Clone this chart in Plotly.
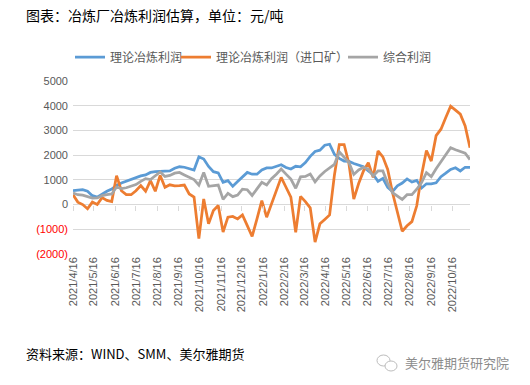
import datetime as dt
import pandas as pd
import plotly.graph_objects as go

# ---- data ----
start_date = "2021-04-16"
n_weeks = 83
dates = pd.date_range(start_date, periods=n_weeks, freq="7D")

blue_name = "理论冶炼利润"
orange_name = "理论冶炼利润（进口矿）"
gray_name = "综合利润"

blue = [560, 570, 600, 540, 360, 300, 430, 540, 630, 770, 870, 940, 1010, 1100, 1160, 1200, 1300, 1330, 1340, 1340, 1360, 1470,
        1530, 1510, 1460, 1400, 1930, 1840, 1540, 1330, 1280, 900, 970, 740, 930, 1130, 1300, 1230, 1230, 1400, 1480,
        1480, 1540, 1610, 1500, 1440, 1550, 1530, 1700, 1950, 2150, 2200, 2400, 2440, 2030, 1870, 1760, 1750, 1660, 1600, 1530, 1360, 1220,
        940, 1060, 700, 530, 760, 870, 1040, 910, 980, 670, 840, 840, 880, 1130, 1270, 1420, 1490, 1360, 1510, 1510]

orange = [400, 100, 0, -170, 100, 0, 280, 170, 120, 1170, 560, 400, 400, 560, 770, 540, 970, 540, 1180, 700, 800, 760,
          765, 790, 430, 300, -1380, 230, -780, -240, -40, -1110, -510, -480, -580, -420, -850, -1290, -580, 160, -510,
          50, 600, 1100, 700, 300, -1120, 330, 120, -130, -1520, -780, -600, -420, 1200, 2430, 2430, 1650, 220, 850, 1360, 1690, 1100,
          2170, 1930, 1420, 480, -330, -1080, -860, -690, -50, 1200, 2190, 1760, 2790, 3050, 3520, 3980, 3820, 3660, 3180, 2300]

gray = [470, 400, 380, 310, 260, 270, 360, 400, 430, 710, 650, 680, 740, 810, 940, 1050, 1010, 1170, 1320, 1140, 1180, 1270,
        1300, 1200, 1100, 1010, 790, 1300, 740, 770, 790, 210, 450, 320, 380, 620, 600, 370, 650, 900, 790,
        1050, 1230, 1440, 1230, 1030, 660, 1120, 1140, 1240, 920, 1160, 1340, 1470, 1630, 2130, 1920, 1700, 1220, 1400, 1510, 1430, 1160,
        1360, 1360, 860, 480, 330, 210, 400, 400, 620, 890, 1290, 1130, 1450, 1740, 2020, 2300, 2220, 2150, 2080, 1820]

x_tick_labels = ["2021/4/16", "2021/5/16", "2021/6/16", "2021/7/16", "2021/8/16", "2021/9/16",
                 "2021/10/16", "2021/11/16", "2021/12/16", "2022/1/16", "2022/2/16", "2022/3/16",
                 "2022/4/16", "2022/5/16", "2022/6/16", "2022/7/16", "2022/8/16", "2022/9/16", "2022/10/16"]
y_pos_ticks = [0, 1000, 2000, 3000, 4000, 5000]
y_pos_labels = ["0", "1000", "2000", "3000", "4000", "5000"]
y_neg_ticks = [-1000, -2000]
y_neg_labels = ["(1000)", "(2000)"]

title_text = "图表：冶炼厂冶炼利润估算，单位：元/吨"
source_text = "资料来源：WIND、SMM、美尔雅期货"
watermark_text = "美尔雅期货研究院"

# ---- figure ----
tick_dates = [dt.datetime.strptime(s, "%Y/%m/%d") for s in x_tick_labels]
x_range = [dates[0], dates[-1]]
y_range = [-2000, 5000]

W, H = 530, 385
L, R, T, B = 73, 60, 81, 131

FONT = "Liberation Sans, Arial, Noto Sans CJK SC, sans-serif"
CJK = "Noto Sans CJK SC, Microsoft YaHei, sans-serif"
GRID = "#d9d9d9"
TXT = "#595959"

fig = go.Figure()
series = [(blue_name, blue, "#5B9BD5", "legend"),
          (orange_name, orange, "#ED7D31", "legend2"),
          (gray_name, gray, "#A5A5A5", "legend3")]
for name, vals, col, lg in series:
    fig.add_trace(go.Scatter(x=dates, y=vals, name=name, mode="lines", legend=lg,
                             line=dict(color=col, width=2.75)))

# helper traces to create secondary axes
fig.add_trace(go.Scatter(x=[dates[0]], y=[None], xaxis="x", yaxis="y2", showlegend=False,
                         hoverinfo="skip", mode="lines"))
fig.add_trace(go.Scatter(x=[None], y=[0], xaxis="x2", yaxis="y", showlegend=False,
                         hoverinfo="skip", mode="lines"))


def cx(xp):
    return xp / W


def cy(yp):
    return 1 - yp / H


def legend_at(xpix):
    return dict(orientation="h", xref="container", yref="container", x=cx(xpix), xanchor="left",
                y=cy(57), yanchor="middle", font=dict(family=CJK, size=12, color=TXT), itemwidth=30,
                bgcolor="rgba(0,0,0,0)", borderwidth=0)


fig.update_layout(
    width=W, height=H,
    margin=dict(l=L, r=R, t=T, b=B, autoexpand=False),
    paper_bgcolor="white", plot_bgcolor="white",
    font=dict(family=FONT, color=TXT, size=11),
    showlegend=True,
    legend=legend_at(70), legend2=legend_at(176), legend3=legend_at(343),
    xaxis=dict(type="date", range=x_range, tickvals=tick_dates, ticktext=x_tick_labels,
               tickangle=-90, showgrid=False, showline=False, zeroline=False, ticks="",
               automargin=False, tickfont=dict(family=FONT, size=11, color=TXT)),
    xaxis2=dict(type="date", range=x_range, tickvals=tick_dates, overlaying="x", anchor="free",
                position=(0 - y_range[0]) / (y_range[1] - y_range[0]), side="bottom",
                showticklabels=False, ticks="outside", ticklen=5, tickcolor=GRID, tickwidth=1,
                showgrid=False, showline=False, zeroline=False, automargin=False),
    yaxis=dict(range=y_range, tickvals=y_neg_ticks + y_pos_ticks, ticktext=["", ""] + y_pos_labels,
               showgrid=True, gridcolor=GRID, gridwidth=1, zeroline=True, zerolinecolor=GRID,
               zerolinewidth=1, showline=False, ticks="", ticklabelstandoff=4, automargin=False,
               tickfont=dict(family=FONT, size=11, color=TXT)),
    yaxis2=dict(range=y_range, tickvals=y_neg_ticks, ticktext=y_neg_labels, overlaying="y",
                side="left", anchor="x", showgrid=False, zeroline=False, showline=False, ticks="",
                ticklabelstandoff=4, automargin=False,
                tickfont=dict(family=FONT, size=11, color="#FF0000")),
)


def sx(xp):
    return (xp - L) / (W - L - R)


def sy(yp):
    return (H - B - yp) / (H - T - B)


fig.add_annotation(text=title_text, xref="paper", yref="paper", x=sx(24), y=sy(15),
                   xanchor="left", yanchor="middle", showarrow=False,
                   font=dict(family=CJK, size=14, color="#000000"))
fig.add_annotation(text=source_text, xref="paper", yref="paper", x=sx(24), y=sy(353),
                   xanchor="left", yanchor="middle", showarrow=False,
                   font=dict(family=CJK, size=13, color="#000000"))
fig.add_annotation(text=watermark_text, xref="paper", yref="paper", x=sx(403), y=sy(362),
                   xanchor="left", yanchor="middle", showarrow=False,
                   font=dict(family=CJK, size=13, color="#8c8c8c"))

# small chat-bubble style icon next to the watermark
fig.add_shape(type="circle", xref="paper", yref="paper", x0=sx(377), x1=sx(390), y0=sy(366), y1=sy(355),
              line=dict(color="#bdbdbd", width=1))
fig.add_shape(type="circle", xref="paper", yref="paper", x0=sx(385), x1=sx(397), y0=sy(371), y1=sy(361),
              line=dict(color="#bdbdbd", width=1), fillcolor="white")

fig.write_html("out.html", config={"displayModeBar": False},
               post_script="document.body.style.margin='0px';")
